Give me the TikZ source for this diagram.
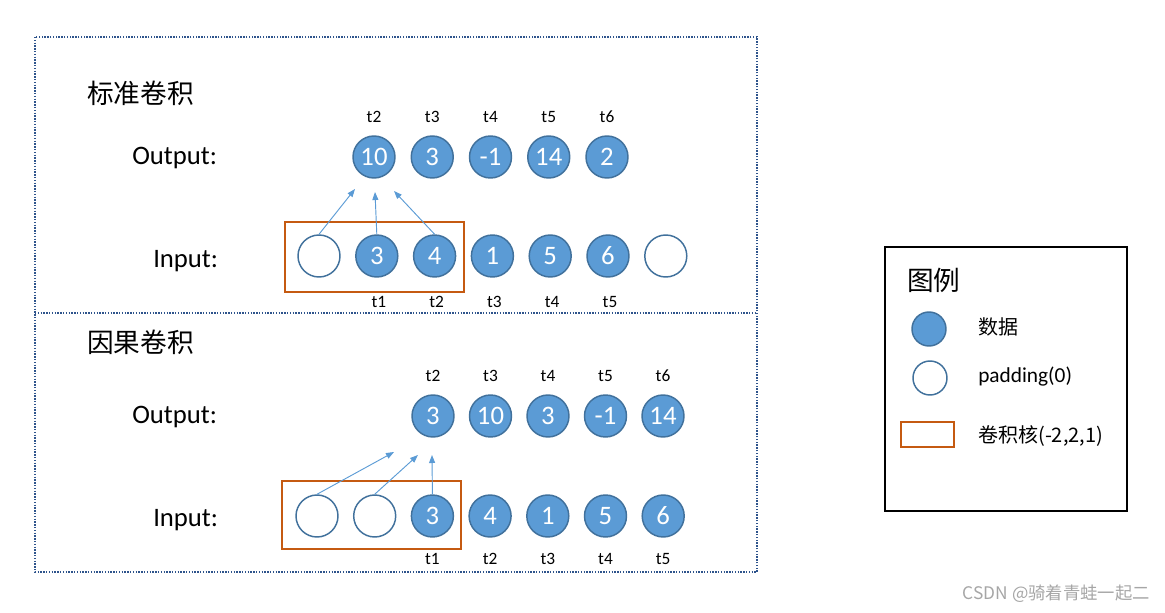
\documentclass[tikz,border=0pt]{standalone}
\usepackage{fontspec}
\setmainfont{Carlito}
\newfontfamily\cjk{Noto Sans CJK SC}
\usetikzlibrary{arrows.meta, positioning}
\definecolor{datablue}{RGB}{91,155,213}
\definecolor{edgeblue}{RGB}{65,113,156}
\definecolor{kernelorange}{RGB}{197,90,17}
\definecolor{framedot}{RGB}{46,84,140}

\tikzset{
  datum/.style={circle, draw=edgeblue, fill=datablue, line width=1.1pt, minimum size=31.5pt, inner sep=0pt, text=white, font=\fontsize{20}{20}\selectfont},
  padcirc/.style={datum, fill=white},
  tlabel/.style={font=\fontsize{13}{13}\selectfont},
  rowlabel/.style={anchor=west, inner sep=0pt, font=\fontsize{20}{24}\selectfont},
  titlelabel/.style={anchor=west, inner sep=0pt, font=\cjk\fontsize{20}{24}\selectfont},
  legtext/.style={anchor=west, inner sep=0pt, font=\cjk\fontsize{15}{15}\selectfont},
  kernel/.style={draw=kernelorange, line width=1.5pt},
  flow/.style={-{Triangle[length=6pt,width=4.5pt]}, datablue, line width=0.7pt},
  frame/.style={draw=framedot, line width=1.1pt, densely dotted},
}

\begin{document}
\begin{tikzpicture}[x=0.75pt, y=-0.75pt]
    \useasboundingbox (0,0) rectangle (1165,613);

    % Outer frame
    \draw[frame] (35,37) rectangle (757,572);
    \draw[frame] (35,313) -- (757,313);

    % Standard convolution
    \node[titlelabel] (stdtitle) at (87,93) {标准卷积};
    \node[rowlabel] (stdout) at (132,158) {Output:};
    \node[rowlabel] (stdin) at (153,261) {Input:};
    \foreach \v [count=\i] in {10,3,-1,14,2} {
        \node[datum] (so\i) at ({374+58.25*(\i-1)},157) {\v};
        \pgfmathtruncatemacro{\t}{\i+1}
        \node[tlabel] (sot\i) at ({374+58.25*(\i-1)},117) {t\t};
    }
    \foreach \s/\v [count=\i] in {padcirc/{},datum/3,datum/4,datum/1,datum/5,datum/6,padcirc/{}} {
        \node[\s] (si\i) at ({319+57.8*(\i-1)},256) {\v};
    }
    \foreach \i [count=\t] in {2,...,6} {
        \node[tlabel] (sit\t) at ({319+57.8*(\i-1)+2},302) {t\t};
    }
    \draw[kernel] (285,222) rectangle (464,292);
    \coordinate (sa1) at (355,189);
    \coordinate (sa2) at (375,192);
    \coordinate (sa3) at (394,191);
    \draw[flow] (si1.north) -- (sa1);
    \draw[flow] (si2.north) -- (sa2);
    \draw[flow] (si3.north) -- (sa3);

    % Causal convolution
    \node[titlelabel] (cautitle) at (87,342) {因果卷积};
    \node[rowlabel] (cauout) at (132,417) {Output:};
    \node[rowlabel] (cauin) at (153,520) {Input:};
    \foreach \v [count=\i] in {3,10,3,-1,14} {
        \node[datum] (co\i) at ({433+57.5*(\i-1)},416) {\v};
        \pgfmathtruncatemacro{\t}{\i+1}
        \node[tlabel] (cot\t) at ({433+57.5*(\i-1)},376) {t\t};
    }
    \foreach \s/\v [count=\i] in {padcirc/{},padcirc/{},datum/3,datum/4,datum/1,datum/5,datum/6} {
        \node[\s] (ci\i) at ({317+57.7*(\i-1)},516) {\v};
    }
    \foreach \i [count=\t] in {3,...,7} {
        \node[tlabel] (cit\t) at ({317+57.7*(\i-1)},559) {t\t};
    }
    \draw[kernel] (282,481) rectangle (461,549);
    \coordinate (ca1) at (394,452);
    \coordinate (ca2) at (418,455);
    \coordinate (ca3) at (432,455);
    \draw[flow] (ci1.north) -- (ca1);
    \draw[flow] (ci2.north) -- (ca2);
    \draw[flow] (ci3.north) -- (ca3);

    % Legend
    \draw[line width=1.5pt] (885,247) rectangle (1127,511);
    \node[titlelabel] (legtitle) at (907,280) {图例};
    \node[datum, minimum size=25.5pt] (legdata) at (929,329) {};
    \node[legtext] (legdatatext) at (978,327) {数据};
    \node[padcirc, minimum size=25.5pt] (legpad) at (930,378) {};
    \node[legtext, font=\fontsize{16}{16}\selectfont] (legpadtext) at (978,377) {padding(0)};
    \draw[kernel] (901,422) rectangle (954,447);
    \node[legtext] (legkerntext) at (978,436) {卷积核(-2,2,1)};

    % Watermark
    \node[anchor=east, inner sep=0pt, text=gray!70, font=\cjk\fontsize{13}{13}\selectfont] (mark) at (1150,594) {CSDN @骑着青蛙一起二};
\end{tikzpicture}
\end{document}
